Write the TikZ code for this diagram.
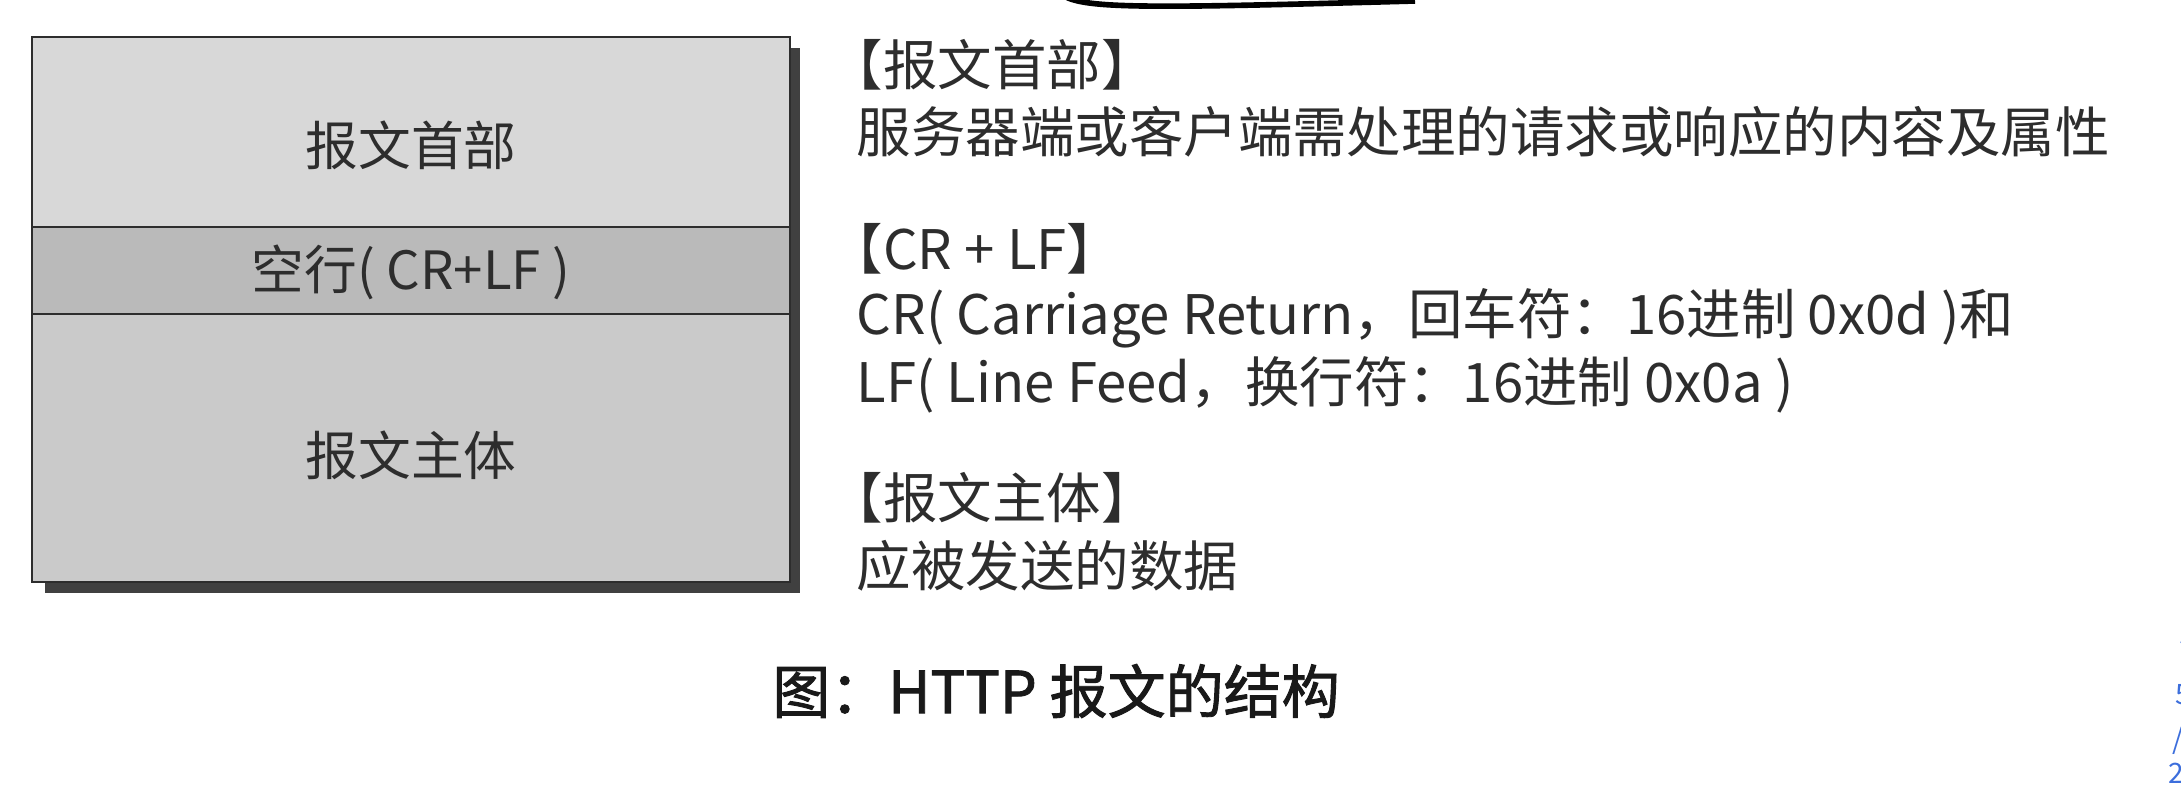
\documentclass[tikz,border=0pt]{standalone}
\usepackage{fontspec}
\setmainfont{Noto Sans CJK SC}
\newfontfamily\capfont[FakeBold=1.6]{Noto Sans CJK SC}
\usetikzlibrary{positioning}

\definecolor{headgray}{RGB}{216,216,216}
\definecolor{crlfgray}{RGB}{186,186,186}
\definecolor{bodygray}{RGB}{202,202,202}
\definecolor{inkgray}{RGB}{45,45,45}
\definecolor{stampblue}{RGB}{60,110,220}

\begin{document}
\begin{tikzpicture}
\tikzstyle{part}=[draw=inkgray, line width=0.8pt, minimum width=7.58cm, inner sep=0pt, outer sep=0pt]
\tikzstyle{parttext}=[inner sep=0pt, text=inkgray, font=\fontsize{15}{18}\selectfont]
\tikzstyle{note}=[anchor=west, inner sep=0pt, text=inkgray, font=\fontsize{15.5}{18}\selectfont]
\tikzstyle{stamp}=[inner sep=0pt, text=stampblue, font=\fontsize{8}{9}\selectfont]

\useasboundingbox (0,0) rectangle (21.81,7.93);

% shadow and the three parts of the message
\fill[black!75] (0.45,2.00) rectangle (8.00,7.45);
\node[part, fill=headgray, minimum height=1.90cm] (head) at (4.11,6.61) {};
\node[part, fill=crlfgray, minimum height=0.87cm, below=0pt of head] (crlf) {};
\node[part, fill=bodygray, minimum height=2.68cm, below=0pt of crlf] (body) {};

\node[parttext] (headtxt) at ([yshift=-0.13cm]head.center) {报文首部};
\node[parttext] (crlftxt) at ([yshift=-0.02cm]crlf.center) {空行( CR+LF )};
\node[parttext] (bodytxt) at ([yshift=-0.07cm]body.center) {报文主体};

% notes on the right
\node[note] (hdtitle) at (8.28,7.28) {【报文首部】};
\node[note] (hddesc) at (8.56,6.61) {服务器端或客户端需处理的请求或响应的内容及属性};
\node[note] (crtitle) at (8.28,5.44) {【CR + LF】};
\node[note] (crdesc1) at (8.56,4.75) {CR( Carriage Return，回车符：16进制 0x0d )和};
\node[note] (crdesc2) at (8.56,4.08) {LF( Line Feed，换行符：16进制 0x0a )};
\node[note] (bdtitle) at (8.28,2.95) {【报文主体】};
\node[note] (bddesc) at (8.56,2.27) {应被发送的数据};

\node[inner sep=0pt, text=black!90, font=\fontsize{16.5}{20}\capfont] (caption) at (10.56,1.02) {图：HTTP 报文的结构};

% cut-off curve at the top edge
\draw[line width=1.6pt, black] (10.66,7.96) .. controls (10.9,7.84) and (11.6,7.85) .. (14.15,7.92);

% blue marks cut by the right edge
\node[stamp] (st1) at (21.86,1.63) {/};
\node[stamp] (st2) at (21.83,0.98) {5};
\node[stamp] (st3) at (21.78,0.52) {/};
\node[stamp] (st4) at (21.76,0.20) {2};
\end{tikzpicture}
\end{document}
